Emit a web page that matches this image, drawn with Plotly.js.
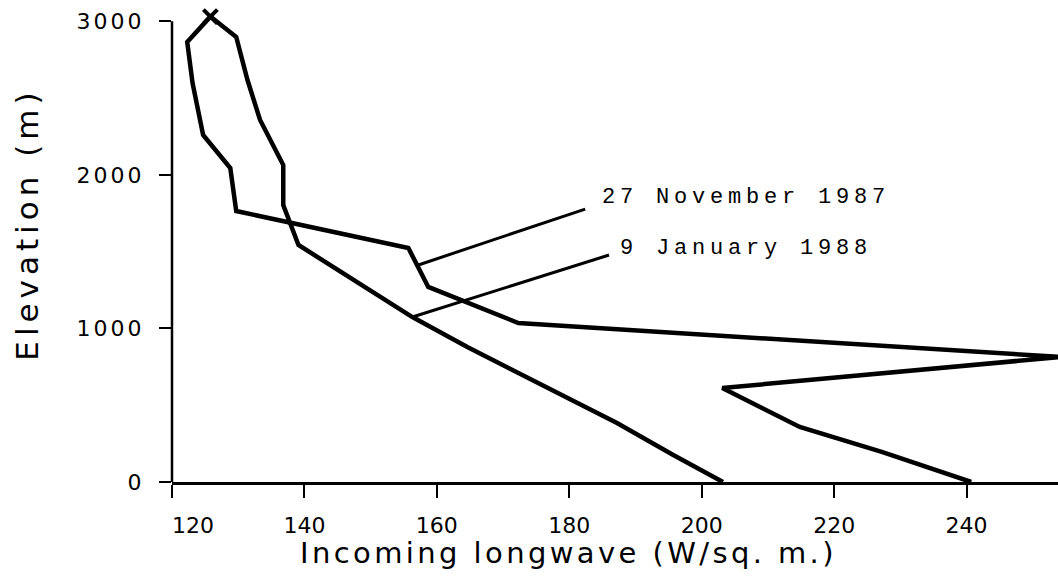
<!DOCTYPE html>
<html>
<head>
<meta charset="utf-8">
<script src="https://cdn.plot.ly/plotly-3.0.1.min.js"></script>
<style>
  html, body { margin: 0; padding: 0; background: #fff; }
  #chart { width: 1058px; height: 583px; }
  .ytick text { letter-spacing: 3px; }
</style>
</head>
<body>
<div id="chart"></div>
<script>
// ---- data ----
// 27 November 1987 profile (incoming longwave W/m², elevation m)
const novX = [125.8, 122.3, 123.1, 124.7, 128.8, 129.7, 155.7, 158.7, 172.3, 254.2, 203.1, 214.8, 227.3, 240.7];
const novY = [3030, 2865, 2598, 2259, 2044, 1764, 1523, 1270, 1035, 814, 612, 358, 195, 0];
// 9 January 1988 profile
const janX = [125.8, 129.7, 131.4, 133.3, 136.8, 136.8, 139.1, 156.3, 164.6, 179.6, 187.2, 195.7, 203.2];
const janY = [3030, 2897, 2617, 2357, 2064, 1803, 1543, 1074, 879, 553, 384, 176, 0];
// summit marker
const summitX = [125.8];
const summitY = [3030];
// label leader lines (from curve to label)
const novLeaderX = [157.2, 182.4];
const novLeaderY = [1413, 1777];
const janLeaderX = [156.3, 186.0];
const janLeaderY = [1074, 1478];
// labels and ticks
const seriesLabels = ['27 November 1987', '9 January 1988'];
const xTicks = [120, 140, 160, 180, 200, 220, 240];
const xTickText = ['\u2007\u2007\u2007120', '140', '160', '180', '200', '220', '240'];
const yTicks = [0, 1000, 2000, 3000];
const xTitle = 'Incoming longwave (W/sq. m.)';
const yTitle = 'Elevation (m)';

const sans = 'DejaVu Sans, sans-serif';
const mono = 'Courier New, Liberation Mono, monospace';
const lineStyle = {color: '#000', width: 4.5, shape: 'linear'};

const traces = [
  {x: novX, y: novY, mode: 'lines', line: lineStyle, name: seriesLabels[0], hoverinfo: 'skip'},
  {x: janX, y: janY, mode: 'lines', line: lineStyle, name: seriesLabels[1], hoverinfo: 'skip'},
  {x: novLeaderX, y: novLeaderY, mode: 'lines', line: {color: '#000', width: 3}, hoverinfo: 'skip'},
  {x: janLeaderX, y: janLeaderY, mode: 'lines', line: {color: '#000', width: 3}, hoverinfo: 'skip'},
  {x: summitX, y: summitY, mode: 'markers', cliponaxis: false,
   marker: {symbol: 'x-thin', size: 14, color: '#000', line: {color: '#000', width: 4}}, hoverinfo: 'skip'}
];

const layout = {
  width: 1058, height: 583,
  margin: {l: 172, r: 0, t: 12, b: 101, pad: 0},
  paper_bgcolor: '#fff', plot_bgcolor: '#fff',
  showlegend: false,
  xaxis: {
    range: [120, 253.8],
    tickmode: 'array', tickvals: xTicks, ticktext: xTickText,
    ticks: 'outside', ticklen: 13, tickwidth: 2, tickcolor: '#000',
    ticklabelstandoff: 9,
    tickfont: {family: sans, size: 22, color: '#000'},
    showgrid: false, zeroline: false,
    showline: true, linecolor: '#000', linewidth: 2.5
  },
  yaxis: {
    range: [0, 3060],
    tickmode: 'array', tickvals: yTicks,
    ticks: 'outside', ticklen: 12, tickwidth: 2, tickcolor: '#000',
    ticklabelstandoff: 10,
    tickfont: {family: sans, size: 22, color: '#000'},
    showgrid: false, zeroline: false, showline: false
  },
  shapes: [
    {type: 'line', xref: 'paper', yref: 'y', x0: 0, x1: 0,
     y0: Math.min(...yTicks), y1: Math.max(...yTicks),
     line: {color: '#000', width: 2.5}}
  ],
  annotations: [
    {xref: 'x', yref: 'y', x: 184.65, y: 1855, xanchor: 'left', yanchor: 'middle', align: 'left',
     showarrow: false,
     text: '<span style="letter-spacing:4.8px">' + seriesLabels[0] + '</span>',
     font: {family: mono, size: 22, color: '#000'}},
    {xref: 'x', yref: 'y', x: 187.4, y: 1523, xanchor: 'left', yanchor: 'middle', align: 'left',
     showarrow: false,
     text: '<span style="letter-spacing:4.8px">' + seriesLabels[1] + '</span>',
     font: {family: mono, size: 22, color: '#000'}},
    {xref: 'paper', yref: 'paper', x: 0.447, y: -0.151, xanchor: 'center', yanchor: 'middle',
     showarrow: false,
     text: '<span style="letter-spacing:3.4px">' + xTitle + '</span>',
     font: {family: sans, size: 29, color: '#000'}},
    {xref: 'paper', yref: 'paper', x: -0.164, y: 0.549, xanchor: 'center', yanchor: 'middle',
     textangle: -90, showarrow: false,
     text: '<span style="letter-spacing:5px">' + yTitle + '</span>',
     font: {family: sans, size: 31, color: '#000'}}
  ]
};

Plotly.newPlot('chart', traces, layout, {staticPlot: true, displayModeBar: false});
</script>
</body>
</html>
